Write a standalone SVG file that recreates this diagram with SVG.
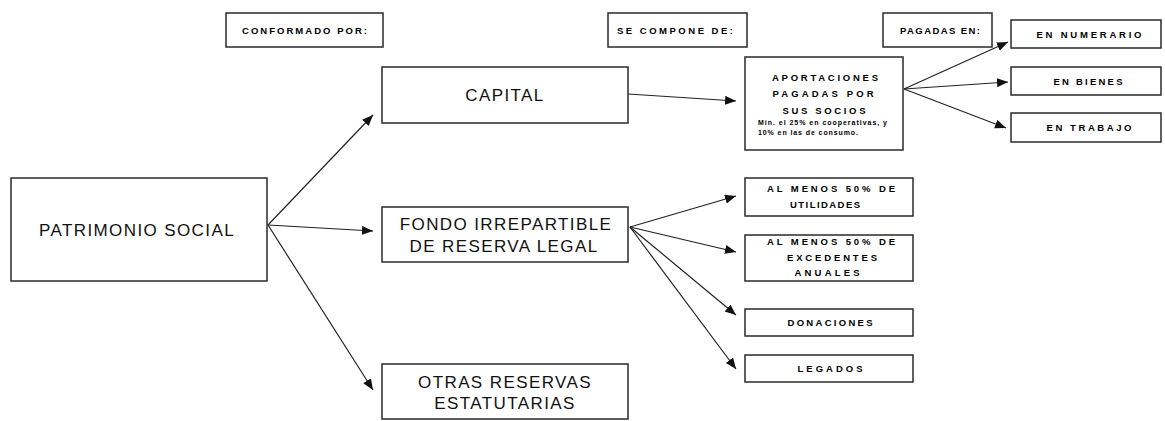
<svg xmlns="http://www.w3.org/2000/svg" width="1165" height="421" viewBox="0 0 1165 421">
<style>
.box{fill:#fff;stroke:#2a2a2a;stroke-width:1.5}
.big{font-family:"Liberation Sans",Arial,sans-serif;font-size:17px;fill:#111;text-anchor:middle;letter-spacing:1.4px}
.sm{font-family:"Liberation Sans",Arial,sans-serif;font-size:9.5px;font-weight:bold;fill:#000;text-anchor:middle}
.tiny{font-family:"Liberation Sans",Arial,sans-serif;font-size:7px;font-weight:bold;fill:#000}
.con{stroke:#222;stroke-width:1.2;fill:none;marker-end:url(#ah)}
</style>
<defs>
<marker id="ah" markerUnits="userSpaceOnUse" markerWidth="12" markerHeight="10" refX="11" refY="4.5" orient="auto">
<path d="M0,0 L11,4.5 L0,9 Z" fill="#111"/>
</marker>
</defs>
<rect width="1165" height="421" fill="#fff"/>
<g id="header1"><rect class="box" x="226" y="13" width="157" height="34"/><text class="sm" x="304.5" y="34" textLength="125" lengthAdjust="spacing">CONFORMADO POR:</text></g>
<g id="header2"><rect class="box" x="608" y="13" width="139" height="34"/><text class="sm" x="675" y="34" textLength="116" lengthAdjust="spacing">SE COMPONE DE:</text></g>
<g id="header3"><rect class="box" x="883" y="13" width="109" height="34"/><text class="sm" x="940" y="34" textLength="80" lengthAdjust="spacing">PAGADAS EN:</text></g>
<g id="patrimonio"><rect class="box" x="11" y="178" width="256" height="103"/><text class="big" x="137" y="236">PATRIMONIO SOCIAL</text></g>
<g id="capital"><rect class="box" x="382" y="67" width="246" height="56"/><text class="big" x="505" y="101">CAPITAL</text></g>
<g id="fondo"><rect class="box" x="382" y="207" width="246" height="55"/><text class="big" x="506" y="230">FONDO IRREPARTIBLE</text><text class="big" x="504" y="252">DE RESERVA LEGAL</text></g>
<g id="otras"><rect class="box" x="382" y="364" width="246" height="55"/><text class="big" x="505" y="388">OTRAS RESERVAS</text><text class="big" x="505" y="409">ESTATUTARIAS</text></g>
<g id="aportaciones"><rect class="box" x="745" y="57" width="158" height="93"/>
<text class="sm" x="825" y="81" textLength="106" lengthAdjust="spacing">APORTACIONES</text>
<text class="sm" x="823" y="97" textLength="101" lengthAdjust="spacing">PAGADAS POR</text>
<text class="sm" x="824" y="114" textLength="83" lengthAdjust="spacing">SUS SOCIOS</text>
<text class="tiny" x="758" y="125" textLength="129" lengthAdjust="spacing">Mín. el 25% en cooperativas, y</text>
<text class="tiny" x="758" y="135" textLength="100" lengthAdjust="spacing">10% en las de consumo.</text></g>
<g id="numerario"><rect class="box" x="1011" y="20" width="150" height="28"/><text class="sm" x="1089" y="38" textLength="105" lengthAdjust="spacing">EN NUMERARIO</text></g>
<g id="bienes"><rect class="box" x="1011" y="67" width="150" height="28"/><text class="sm" x="1088" y="85" textLength="69" lengthAdjust="spacing">EN BIENES</text></g>
<g id="trabajo"><rect class="box" x="1011" y="113" width="150" height="29"/><text class="sm" x="1089" y="131" textLength="85" lengthAdjust="spacing">EN TRABAJO</text></g>
<g id="utilidades"><rect class="box" x="745" y="178" width="168" height="38"/><text class="sm" x="831" y="192" textLength="128" lengthAdjust="spacing">AL MENOS 50% DE</text><text class="sm" x="825" y="208" textLength="70" lengthAdjust="spacing">UTILIDADES</text></g>
<g id="excedentes"><rect class="box" x="745" y="235" width="168" height="46"/><text class="sm" x="831" y="245" textLength="128" lengthAdjust="spacing">AL MENOS 50% DE</text><text class="sm" x="832" y="261" textLength="90" lengthAdjust="spacing">EXCEDENTES</text><text class="sm" x="827" y="276" textLength="65" lengthAdjust="spacing">ANUALES</text></g>
<g id="donaciones"><rect class="box" x="745" y="309" width="168" height="27"/><text class="sm" x="830" y="326" textLength="85" lengthAdjust="spacing">DONACIONES</text></g>
<g id="legados"><rect class="box" x="745" y="355" width="168" height="27"/><text class="sm" x="830" y="372" textLength="65" lengthAdjust="spacing">LEGADOS</text></g>
<g id="connectors">
<line class="con" x1="268" y1="225" x2="373" y2="115"/>
<line class="con" x1="268" y1="225" x2="373" y2="231"/>
<line class="con" x1="268" y1="225" x2="373" y2="390"/>
<line class="con" x1="628" y1="94" x2="736" y2="101"/>
<line class="con" x1="630" y1="227" x2="736" y2="196"/>
<line class="con" x1="630" y1="227" x2="736" y2="252"/>
<line class="con" x1="630" y1="227" x2="736" y2="315"/>
<line class="con" x1="630" y1="227" x2="736" y2="369"/>
<line class="con" x1="904" y1="89" x2="1008" y2="42"/>
<line class="con" x1="904" y1="89" x2="1008" y2="82"/>
<line class="con" x1="904" y1="89" x2="1006" y2="128"/>
</g>
</svg>
